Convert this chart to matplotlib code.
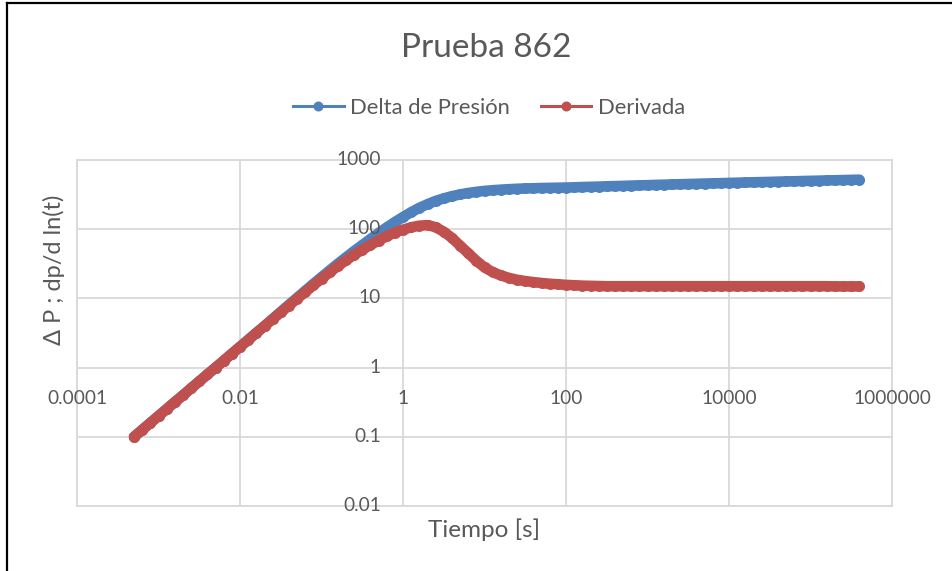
import matplotlib
matplotlib.use("Agg")
import matplotlib.pyplot as plt
from matplotlib.lines import Line2D
from matplotlib.ticker import NullLocator, FixedLocator

plt.rcParams['font.family'] = ['Lato', 'DejaVu Sans']

# ---- data ----
tiempo = [0.000501, 0.000631, 0.000794, 0.001, 0.00126, 0.00158, 0.002, 0.00251, 0.00316, 0.00398,
          0.00501, 0.00631, 0.00794, 0.01, 0.0126, 0.0158, 0.02, 0.0251, 0.0316, 0.0398,
          0.0501, 0.0631, 0.0794, 0.1, 0.126, 0.158, 0.2, 0.251, 0.316, 0.398,
          0.501, 0.631, 0.794, 1, 1.26, 1.58, 2.0, 2.51, 3.16, 3.98,
          5.01, 6.31, 7.94, 10, 12.6, 15.8, 20, 25.1, 31.6, 39.8,
          50.1, 63.1, 79.4, 100, 126, 158, 200, 251, 316, 398,
          501, 631, 794, 1000, 1260, 1580, 2000, 2510, 3160, 3980,
          5010, 6310, 7940, 10000, 12600, 15800, 20000, 25100, 31600, 39800,
          50100, 63100, 79400, 100000, 126000, 158000, 200000, 251000, 316000, 398000]

delta_presion = [0.100, 0.126, 0.159, 0.200, 0.252, 0.317, 0.399, 0.502, 0.632, 0.796,
                 1.00, 1.26, 1.59, 2.00, 2.52, 3.17, 4.00, 5.05, 6.40, 8.10,
                 10.2, 12.9, 16.2, 20.3, 25.4, 31.6, 39.2, 48.3, 59.0, 72.0,
                 88, 106, 127, 150, 176, 203, 230, 256, 279, 300,
                 318, 334, 347, 358, 366, 373, 379, 384, 388, 391,
                 394, 396, 398, 400, 403, 407, 410, 413, 417, 420,
                 423, 427, 430, 433, 437, 440, 443, 447, 450, 453,
                 457, 460, 463, 467, 470, 473, 477, 480, 483, 487,
                 490, 493, 497, 500, 503, 507, 510, 513, 517, 520]

derivada = [0.100, 0.126, 0.159, 0.200, 0.252, 0.317, 0.399, 0.502, 0.632, 0.796,
            1.00, 1.26, 1.59, 2.00, 2.51, 3.16, 3.98, 5.00, 6.28, 7.88,
            9.88, 12.35, 15.4, 19.2, 23.8, 29.2, 35.5, 42.5, 50.5, 59.0,
            68.5, 79.0, 89.5, 98.5, 106.5, 112.5, 114.5, 107, 92, 75,
            58, 45, 35, 28, 24, 21.5, 19.8, 18.6, 17.8, 17.2,
            16.7, 16.3, 16.0, 15.7, 15.5, 15.3, 15.2, 15.1, 15.0, 15.0,
            15.0, 15.0, 15.0, 15.0, 15.0, 15.0, 15.0, 15.0, 15.0, 15.0,
            15.0, 15.0, 15.0, 15.0, 15.0, 15.0, 15.0, 15.0, 15.0, 15.0,
            15.0, 15.0, 15.0, 15.0, 15.0, 15.0, 14.9, 14.9, 14.9, 14.9]

x_ticks = [1e-4, 1e-2, 1, 1e2, 1e4, 1e6]
x_tick_labels = ['0.0001', '0.01', '1', '100', '10000', '1000000']
y_ticks = [0.01, 0.1, 1, 10, 100, 1000]
y_tick_labels = ['0.01', '0.1', '1', '10', '100', '1000']

series_names = ['Delta de Presión', 'Derivada']
title = 'Prueba 862'
x_title = 'Tiempo [s]'
y_title = 'Δ P ; dp/d ln(t)'

# ---- style ----
W, H = 952, 571
BLUE = '#4F81BD'
RED = '#C0504D'
TXT = '#595959'
GRID = '#d9d9d9'

fig = plt.figure(figsize=(W / 100, H / 100), dpi=100)
fig.patch.set_facecolor('white')

ax_l, ax_r, ax_t, ax_b = 77, 892, 160, 506
ax = fig.add_axes([ax_l / W, 1 - ax_b / H, (ax_r - ax_l) / W, (ax_b - ax_t) / H])
ax.set_xscale('log')
ax.set_yscale('log')
ax.set_xlim(x_ticks[0], x_ticks[-1])
ax.set_ylim(y_ticks[0], y_ticks[-1])
ax.xaxis.set_major_locator(FixedLocator(x_ticks))
ax.yaxis.set_major_locator(FixedLocator(y_ticks))
ax.xaxis.set_minor_locator(NullLocator())
ax.yaxis.set_minor_locator(NullLocator())
ax.tick_params(length=0, labelbottom=False, labelleft=False)
ax.grid(True, which='major', color=GRID, lw=1.3, zorder=0)
ax.set_axisbelow(True)
for s in ax.spines.values():
    s.set_color(GRID)
    s.set_linewidth(1.3)

# series: dense markers joined into a continuous band
ms = 7.9
lw = 7.6
ax.plot(tiempo, delta_presion, color=BLUE, lw=lw, marker='o', ms=ms, mew=0,
        solid_capstyle='round', solid_joinstyle='round', zorder=3, clip_on=False)
ax.plot(tiempo, derivada, color=RED, lw=lw, marker='o', ms=ms, mew=0,
        solid_capstyle='round', solid_joinstyle='round', zorder=4, clip_on=False)

# tick labels along the crossing axes (x axis at y=1, y axis at x=1)
tick_fs = 13.8
for xv, lab in zip(x_ticks, x_tick_labels):
    ax.annotate(lab, xy=(xv, 1), xycoords='data', xytext=(0, -36), textcoords='offset pixels',
                ha='center', va='baseline', fontsize=tick_fs, color=TXT, annotation_clip=False)
for yv, lab in zip(y_ticks, y_tick_labels):
    ax.annotate(lab, xy=(1, yv), xycoords='data', xytext=(-22, -5), textcoords='offset pixels',
                ha='right', va='baseline', fontsize=tick_fs, color=TXT, annotation_clip=False)

# titles
fig.text(486.7 / W, 1 - 57.3 / H, title, ha='center', va='baseline', fontsize=24,
         color=TXT, fontweight='normal')
fig.text(484 / W, 1 - 536.7 / H, x_title, ha='center', va='baseline', fontsize=17.5, color=TXT)
fig.text(54 / W, 1 - 270 / H, y_title, ha='center', va='center', rotation=90, fontsize=17,
         color=TXT)

# legend
handles = [Line2D([], [], color=BLUE, lw=2.2, marker='o', ms=7.2, mew=0),
           Line2D([], [], color=RED, lw=2.2, marker='o', ms=7.2, mew=0)]
fig.legend(handles, series_names, loc='center', bbox_to_anchor=(489 / W, 1 - 108 / H),
           ncol=2, frameon=False, fontsize=15.8, labelcolor=TXT, handlelength=2.3,
           handletextpad=0.3, columnspacing=1.4, borderpad=0, borderaxespad=0)

# outer frame (top and left edges visible in the reference)
fig.add_artist(Line2D([7 / W, 7 / W], [0, 1 - 3 / H], transform=fig.transFigure,
                      color='black', lw=1.6))
fig.add_artist(Line2D([7 / W, 1], [1 - 3 / H, 1 - 3 / H], transform=fig.transFigure,
                      color='black', lw=1.6))

fig.savefig('out.png', dpi=100, facecolor='white')
